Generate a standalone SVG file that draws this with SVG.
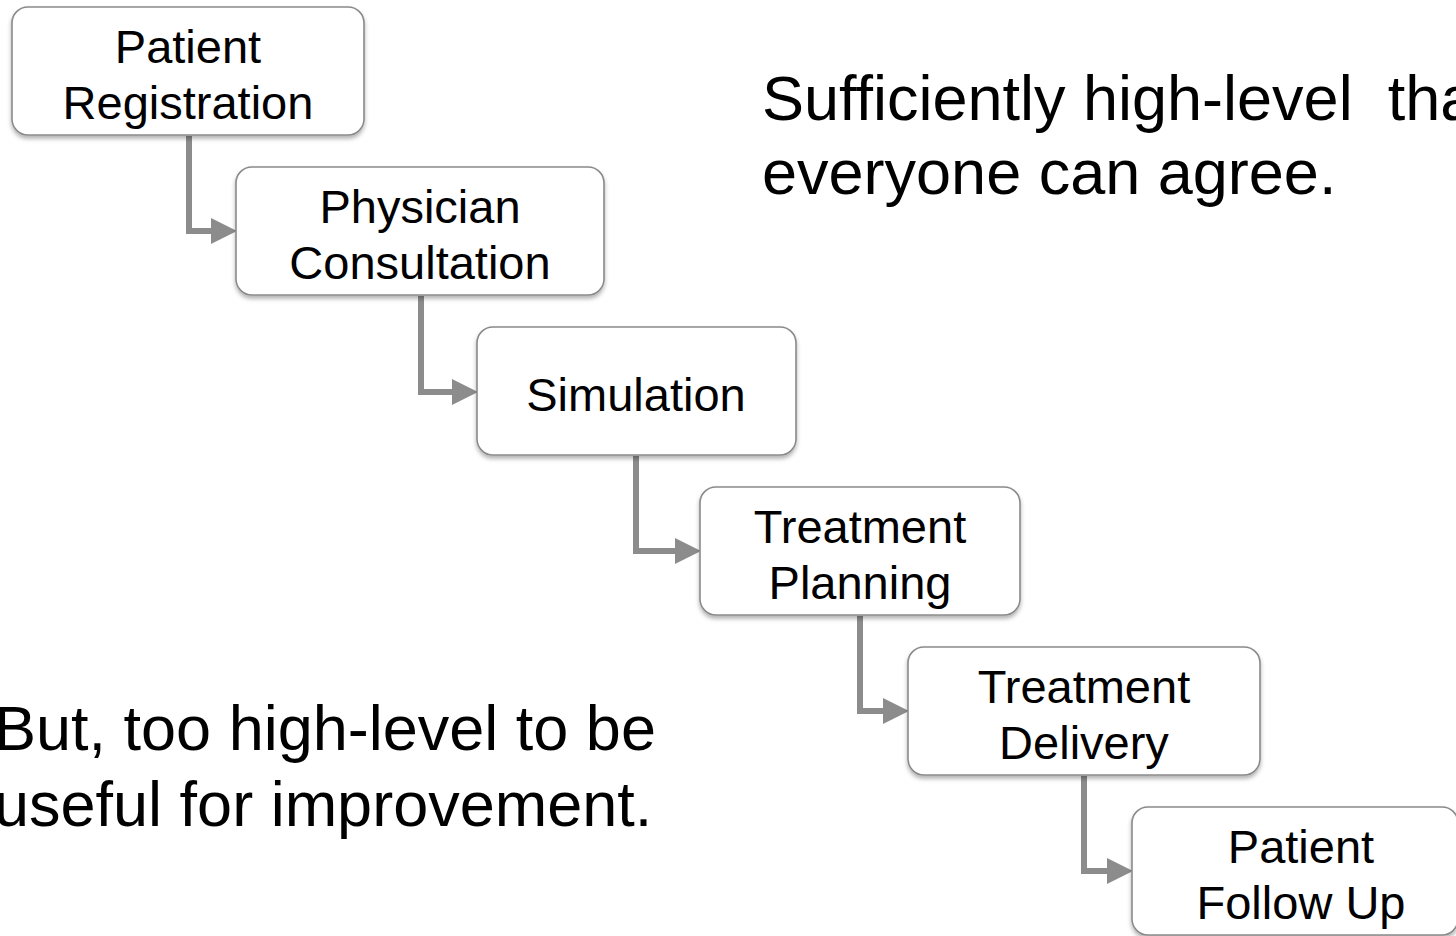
<svg xmlns="http://www.w3.org/2000/svg" width="1456" height="936" viewBox="0 0 1456 936">
  <style>
    .box { fill: #ffffff; stroke: #8a8a8a; stroke-width: 1.6; filter: url(#sh); }
    .lbl { font-family: "Liberation Sans", Arial, Helvetica, sans-serif; font-size: 47px; fill: #000000; text-anchor: middle; }
    .big { font-family: "Liberation Sans", Arial, Helvetica, sans-serif; font-size: 63px; fill: #000000; }
    .con { fill: none; stroke: #8c8c8c; stroke-width: 6; stroke-linejoin: miter; }
  </style>
  <defs>
    <filter id="sh" x="-10%" y="-10%" width="120%" height="130%">
      <feDropShadow dx="0" dy="3" stdDeviation="2" flood-color="#000000" flood-opacity="0.3"/>
    </filter>
    <marker id="arr" markerUnits="userSpaceOnUse" markerWidth="26" markerHeight="26" viewBox="0 0 26 26" refX="0" refY="13" orient="auto">
      <path d="M0,0 L26,13 L0,26 z" fill="#8c8c8c"/>
    </marker>
  </defs>
  <rect width="1456" height="936" fill="#ffffff"/>

  <g id="connectors">
    <path class="con" d="M189 136 V231 H211" marker-end="url(#arr)"/>
    <path class="con" d="M421 296 V392 H452" marker-end="url(#arr)"/>
    <path class="con" d="M636 456 V551 H675" marker-end="url(#arr)"/>
    <path class="con" d="M860 616 V711 H883" marker-end="url(#arr)"/>
    <path class="con" d="M1084 776 V871 H1107" marker-end="url(#arr)"/>
  </g>

  <g id="patient-registration">
    <rect class="box" x="12" y="7" width="352" height="128" rx="16"/>
    <text class="lbl" x="188" y="63">Patient</text>
    <text class="lbl" x="188" y="119">Registration</text>
  </g>
  <g id="physician-consultation">
    <rect class="box" x="236" y="167" width="368" height="128" rx="16"/>
    <text class="lbl" x="420" y="223">Physician</text>
    <text class="lbl" x="420" y="279">Consultation</text>
  </g>
  <g id="simulation">
    <rect class="box" x="477" y="327" width="319" height="128" rx="16"/>
    <text class="lbl" x="636" y="411">Simulation</text>
  </g>
  <g id="treatment-planning">
    <rect class="box" x="700" y="487" width="320" height="128" rx="16"/>
    <text class="lbl" x="860" y="543">Treatment</text>
    <text class="lbl" x="860" y="599">Planning</text>
  </g>
  <g id="treatment-delivery">
    <rect class="box" x="908" y="647" width="352" height="128" rx="16"/>
    <text class="lbl" x="1084" y="703">Treatment</text>
    <text class="lbl" x="1084" y="759">Delivery</text>
  </g>
  <g id="patient-follow-up">
    <rect class="box" x="1132" y="807" width="326" height="128" rx="16"/>
    <text class="lbl" x="1301" y="863">Patient</text>
    <text class="lbl" x="1301" y="919">Follow Up</text>
  </g>

  <g id="notes">
    <text class="big" x="762" y="120" xml:space="preserve">Sufficiently high-level  that</text>
    <text class="big" x="762" y="194">everyone can agree.</text>
    <text class="big" x="-6" y="750">But, too high-level to be</text>
    <text class="big" x="-6" y="826">useful for improvement.</text>
  </g>
</svg>
